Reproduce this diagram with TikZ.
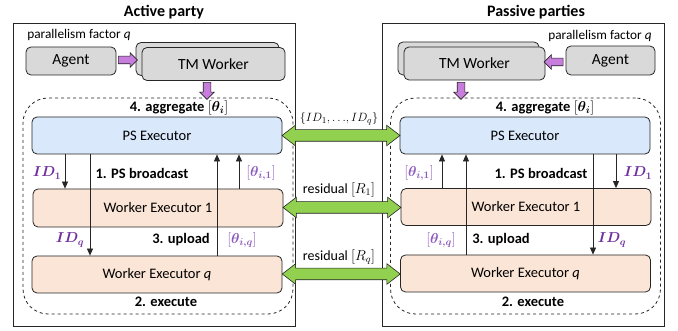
\documentclass[tikz,border=0pt]{standalone}
\usepackage{amsmath,bm}
\usepackage{fontspec}
\setmainfont{Carlito}
\usetikzlibrary{shapes.arrows, arrows.meta, positioning, calc}
\definecolor{psblue}{RGB}{218,232,252}
\definecolor{workerorange}{RGB}{251,229,214}
\definecolor{agentgray}{RGB}{217,217,217}
\definecolor{blockpurple}{RGB}{199,125,220}
\definecolor{idpurple}{RGB}{112,48,160}
\definecolor{thetapurple}{RGB}{140,90,190}
\definecolor{linkgreen}{RGB}{146,208,80}
\definecolor{edgegray}{RGB}{38,38,38}

\begin{document}
\begin{tikzpicture}[x=1pt, y=-1pt,
    party/.style={draw=edgegray, fill=white, line width=0.8pt, minimum width=282pt, minimum height=303pt, inner sep=0pt},
    group/.style={draw=edgegray, dashed, line width=0.8pt, rounded corners=25pt, minimum width=270pt, minimum height=216pt, inner sep=0pt},
    executor/.style={draw=edgegray, line width=0.8pt, rounded corners=5pt, minimum width=250pt, inner sep=0pt, font=\fontsize{14.5}{16}\selectfont},
    psbox/.style={executor, fill=psblue, minimum height=37pt},
    workerbox/.style={executor, fill=workerorange, minimum height=37pt},
    graybox/.style={draw=edgegray, fill=agentgray, line width=0.8pt, rounded corners=5pt, inner sep=0pt, font=\fontsize{15.5}{17}\selectfont},
    purplearrow/.style={single arrow, draw=edgegray, fill=blockpurple, line width=0.6pt, inner sep=3.5pt, inner xsep=0pt, single arrow head extend=3.5pt, minimum height=19pt},
    greenarrow/.style={double arrow, draw=edgegray, fill=linkgreen, line width=0.6pt, inner sep=5.5pt, inner xsep=0pt, double arrow head extend=4.5pt, double arrow tip angle=75, minimum height=118pt},
    flow/.style={-{Triangle[length=7pt, width=6pt]}, line width=0.7pt, draw=edgegray},
    title/.style={font=\fontsize{16}{18}\selectfont\bfseries},
    steplabel/.style={font=\fontsize{14.5}{16}\selectfont\bfseries},
    idlabel/.style={text=idpurple, font=\fontsize{14.5}{16}\selectfont},
    thetalabel/.style={text=thetapurple, font=\fontsize{14.5}{16}\selectfont},
    note/.style={font=\fontsize{13.3}{15}\selectfont},
    linklabel/.style={font=\fontsize{14}{16}\selectfont}
]
    \useasboundingbox (0,0) rectangle (678,331);

    % Parties
    \node[title] (titleA) at (164,12) {Active party};
    \node[title] (titleP) at (536,12) {Passive parties};
    \node[party] (partyA) at (154,174.5) {};
    \node[party] (partyP) at (523,174.5) {};
    \node[note] (parA) at (79,35) {parallelism factor \textit{q}};
    \node[note] (parP) at (600,36) {parallelism factor \textit{q}};

    % Agents and TM workers
    \node[graybox, minimum width=90pt, minimum height=28pt] (agentA) at (71,61) {Agent};
    \node[graybox, minimum width=143pt, minimum height=33pt] (tmAback) at (207.5,59) {};
    \node[graybox, minimum width=143pt, minimum height=33pt] (tmA) at (213.5,64) {TM Worker};
    \node[graybox, minimum width=89pt, minimum height=29pt] (agentP) at (610.5,60.5) {Agent};
    \node[graybox, minimum width=141pt, minimum height=33pt] (tmPback) at (468.5,58.5) {};
    \node[graybox, minimum width=141pt, minimum height=33pt] (tmP) at (474.5,63.5) {TM Worker};

    % Executor groups
    \node[group] (groupA) at (158,206) {};
    \node[group] (groupP) at (525.5,206) {};
    \node[psbox] (psA) at (157,135.5) {PS Executor};
    \node[workerbox, minimum height=38pt] (weA1) at (158,208) {Worker Executor 1};
    \node[workerbox] (weAq) at (157,274.5) {Worker Executor \textit{q}};
    \node[psbox] (psP) at (525,135.5) {PS Executor};
    \node[workerbox] (weP1) at (526,207) {Worker Executor 1};
    \node[workerbox] (wePq) at (525.5,273.5) {Worker Executor \textit{q}};

    % Purple block arrows
    \node[purplearrow] (spawnA) at ($(agentA.east)!0.5!(tmAback.west)$) {};
    \node[purplearrow, rotate=180] (spawnP) at ($(agentP.west)!0.5!(tmP.east)$) {};
    \node[purplearrow, rotate=-90, minimum height=17pt] (launchA) at (207,89) {};
    \node[purplearrow, rotate=-90, minimum height=17pt] (launchP) at (461,89) {};

    % Step labels
    \node[steplabel] (aggA) at (179,108) {4. aggregate $[\bm{\theta_i}]$};
    \node[steplabel] (aggP) at (545,108) {4. aggregate $[\bm{\theta_i}]$};
    \node[steplabel] (bcA) at (142,173) {1. PS broadcast};
    \node[steplabel] (bcP) at (541,173) {1. PS broadcast};
    \node[steplabel] (upA) at (181,240) {3. upload};
    \node[steplabel] (upP) at (501,240) {3. upload};
    \node[steplabel] (exA) at (166,302) {2. execute};
    \node[steplabel] (exP) at (533,302) {2. execute};

    % Vertical connections
    \coordinate (xA1) at (65,0);
    \coordinate (xA2) at (90,0);
    \coordinate (xA3) at (217,0);
    \coordinate (xA4) at (239,0);
    \coordinate (xP1) at (442,0);
    \coordinate (xP2) at (466,0);
    \coordinate (xP3) at (593,0);
    \coordinate (xP4) at (616,0);
    \draw[flow] (xA1 |- psA.south) -- (xA1 |- weA1.north);
    \draw[flow] (xA2 |- psA.south) -- (xA2 |- weAq.north);
    \draw[flow] (xA3 |- weAq.north) -- (xA3 |- psA.south);
    \draw[flow] (xA4 |- weA1.north) -- (xA4 |- psA.south);
    \draw[flow] (xP1 |- weP1.north) -- (xP1 |- psP.south);
    \draw[flow] (xP2 |- wePq.north) -- (xP2 |- psP.south);
    \draw[flow] (xP3 |- psP.south) -- (xP3 |- wePq.north);
    \draw[flow] (xP4 |- psP.south) -- (xP4 |- weP1.north);

    % Message labels
    \node[idlabel] (idA1) at (47,173) {$\bm{ID_1}$};
    \node[idlabel] (idAq) at (70,240) {$\bm{ID_q}$};
    \node[thetalabel] (thA1) at (261,173) {$[\bm{\theta_{i,1}}]$};
    \node[thetalabel] (thAq) at (242,240) {$[\bm{\theta_{i,q}}]$};
    \node[idlabel] (idP1) at (638,173) {$\bm{ID_1}$};
    \node[idlabel] (idPq) at (612,240) {$\bm{ID_q}$};
    \node[thetalabel] (thP1) at (419,173) {$[\bm{\theta_{i,1}}]$};
    \node[thetalabel] (thPq) at (441,240) {$[\bm{\theta_{i,q}}]$};

    % Links between parties
    \node[greenarrow] (linkPS) at ($(psA.east)!0.5!(psP.west)$) {};
    \node[greenarrow] (link1) at ($(weA1.east)!0.5!(weP1.west)$) {};
    \node[greenarrow] (linkq) at ($(weAq.east)!0.5!(wePq.west)$) {};
    \node[linklabel, font=\fontsize{13}{15}\selectfont] (linkPSlabel) at (339,119) {$\{ID_1,{\ldots},ID_q\}$};
    \node[linklabel] (link1label) at (339,190) {residual $[R_1]$};
    \node[linklabel] (linkqlabel) at (339,257) {residual $[R_q]$};
\end{tikzpicture}
\end{document}
